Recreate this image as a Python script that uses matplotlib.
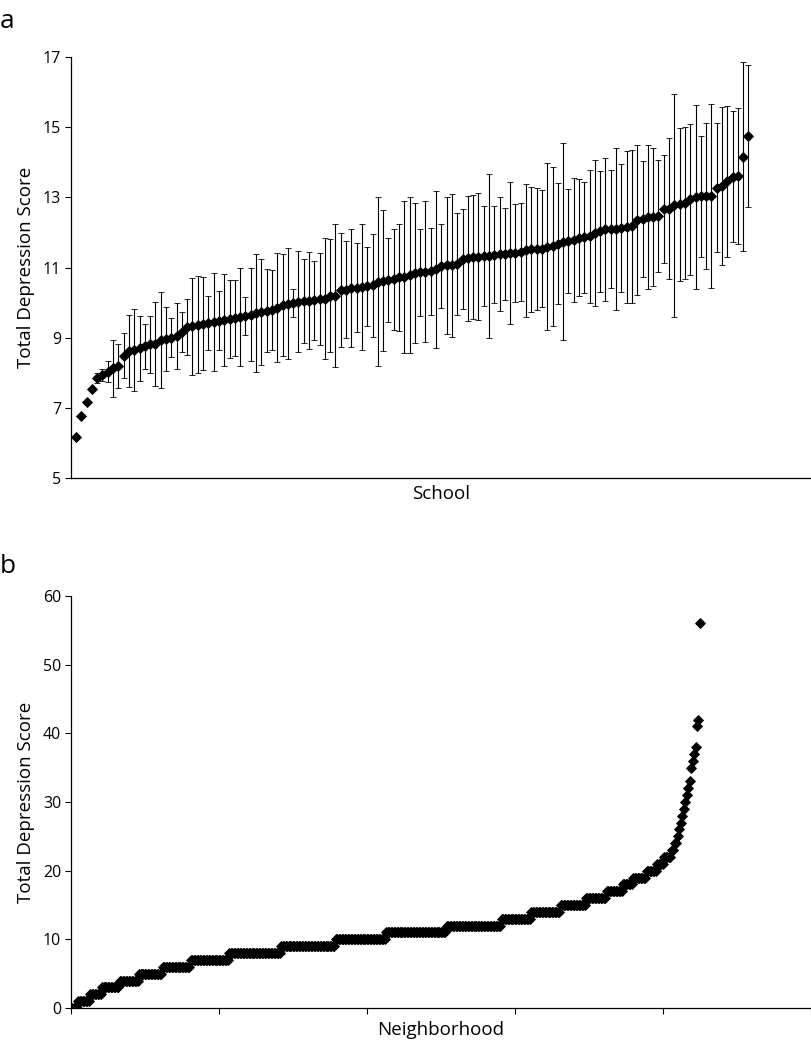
import numpy as np
import matplotlib
matplotlib.use("Agg")
import matplotlib.pyplot as plt

plt.rcParams['font.family'] = ['Open Sans', 'DejaVu Sans']

# panel a: mean score per school (sorted) and error bar half-width
school_mean = [
    6.18, 6.77, 7.17, 7.55, 7.85, 7.94, 8.03, 8.13, 8.19, 8.49, 8.62, 8.65, 8.70, 8.76, 8.81, 8.82, 8.93, 8.96, 9.00, 9.05, 9.17,
    9.30, 9.33, 9.37, 9.40, 9.43, 9.45, 9.48, 9.50, 9.53, 9.57, 9.60, 9.62, 9.66, 9.70, 9.73, 9.77, 9.80, 9.86, 9.93, 9.97, 10.00, 10.02,
    10.04, 10.06, 10.07, 10.10, 10.11, 10.19, 10.20, 10.36, 10.37, 10.41, 10.42, 10.44, 10.46, 10.49, 10.60, 10.63, 10.65, 10.67, 10.72, 10.73, 10.78, 10.85,
    10.86, 10.88, 10.90, 10.95, 11.04, 11.06, 11.07, 11.10, 11.25, 11.26, 11.29, 11.31, 11.32, 11.33, 11.37, 11.38, 11.39, 11.41, 11.42, 11.45, 11.49,
    11.52, 11.53, 11.54, 11.59, 11.60, 11.68, 11.74, 11.76, 11.78, 11.85, 11.86, 11.89, 11.98, 12.03, 12.09, 12.10, 12.11, 12.12, 12.16, 12.17, 12.35, 12.38,
    12.43, 12.44, 12.47, 12.66, 12.67, 12.77, 12.80, 12.85, 12.95, 13.02, 13.03, 13.04, 13.05, 13.27, 13.32, 13.46, 13.59, 13.60, 14.16, 14.75,
]
school_err = [
    0, 0, 0, 0, 0.15, 0.17, 0.30, 0.81, 0.63, 0.63, 1.02, 1.16, 0.93, 0.64, 0.81, 1.20, 1.37, 0.92, 0.55, 0.94, 0.57,
    0.79, 1.38, 1.39, 1.33, 0.77, 1.40, 0.84, 1.31, 1.12, 1.08, 1.40, 0.53, 1.32, 1.69, 1.52, 1.19, 1.14, 1.56, 1.45, 1.59, 0.40, 1.44,
    1.20, 1.39, 1.13, 1.32, 1.72, 1.61, 2.03, 1.62, 1.39, 1.68, 1.27, 1.79, 1.13, 1.48, 2.42, 2.01, 1.19, 1.44, 1.52, 2.18, 2.22, 2.00,
    1.24, 2.01, 1.24, 2.23, 1.19, 1.96, 2.04, 1.45, 1.42, 1.78, 1.77, 1.81, 1.42, 2.33, 1.39, 1.63, 1.32, 2.02, 1.39, 1.40, 1.89,
    1.78, 1.73, 1.67, 2.38, 2.27, 1.72, 2.81, 1.48, 1.77, 1.66, 1.58, 1.89, 2.08, 1.72, 2.04, 1.67, 2.31, 1.83, 2.17, 2.17, 2.13, 1.66,
    2.05, 1.97, 1.59, 1.54, 2.01, 3.17, 2.17, 2.17, 2.15, 2.62, 1.72, 2.09, 2.62, 1.84, 2.25, 2.15, 1.87, 1.94, 2.70, 2.02,
]

# panel b: neighborhood scores, given as score value and how many neighborhoods have it
nb_score = [0, 1, 2, 3, 4, 5, 6, 7, 8, 9, 10, 11, 12, 13, 14, 15, 16, 17, 18, 19, 20,
            21, 22, 23, 24, 25, 26, 27, 28, 29, 30, 31, 32, 33, 35, 36, 37, 38, 41, 42, 56]
nb_count = [4, 8, 8, 12, 13, 16, 19, 26, 35, 37, 34, 41, 37, 20, 20, 17, 14, 11, 7, 9, 7,
            5, 5, 2, 2, 1, 1, 1, 1, 1, 1, 1, 1, 1, 1, 1, 1, 1, 1, 1, 1]

fig = plt.figure(figsize=(8.12, 10.41), dpi=100)

# ---- panel a
ax1 = fig.add_axes([0.0874, 0.5408, 0.9126, 0.4044])
x1 = np.arange(1, len(school_mean) + 1)
ax1.errorbar(x1, school_mean, yerr=school_err, fmt='D', color='black',
             ms=5, mew=0.6, ecolor='black', elinewidth=0.8, capsize=2.5, capthick=0.8)
ax1.set_xlim(0.05, 140)
ax1.set_ylim(5, 17)
ax1.set_yticks([5, 7, 9, 11, 13, 15, 17])
ax1.set_xticks([])
ax1.spines['top'].set_visible(False)
ax1.spines['right'].set_visible(False)
ax1.tick_params(axis='y', direction='out', length=4, width=0.8, labelsize=11.5, pad=3)
ax1.set_ylabel('Total Depression Score', fontsize=13.5, labelpad=6)
ax1.set_xlabel('School', fontsize=13.5, labelpad=5)

# ---- panel b
ax2 = fig.add_axes([0.0874, 0.0317, 0.9113, 0.3958])
y2 = np.repeat(nb_score, nb_count)
x2 = np.arange(1, len(y2) + 1)
ax2.plot(x2, y2, 'D', color='black', ms=5.6, mew=0.6)
ax2.set_xlim(0, 500)
ax2.set_ylim(0, 60)
ax2.set_yticks(range(0, 61, 10))
ax2.set_xticks(range(0, 501, 100))
ax2.set_xticklabels([])
ax2.spines['top'].set_visible(False)
ax2.spines['right'].set_visible(False)
ax2.tick_params(axis='y', direction='out', length=4, width=0.8, labelsize=11.5, pad=3)
ax2.tick_params(axis='x', direction='out', length=4, width=0.8)
ax2.set_ylabel('Total Depression Score', fontsize=13.5, labelpad=6)
ax2.set_xlabel('Neighborhood', fontsize=13.5, labelpad=2)

for ax in (ax1, ax2):
    ax.spines['left'].set_linewidth(0.9)
    ax.spines['bottom'].set_linewidth(0.9)

fig.text(0.0, 0.979, 'a', fontsize=19, va='center', ha='left')
fig.text(0.0, 0.456, 'b', fontsize=19, va='center', ha='left')

fig.savefig('out.png', dpi=100)
